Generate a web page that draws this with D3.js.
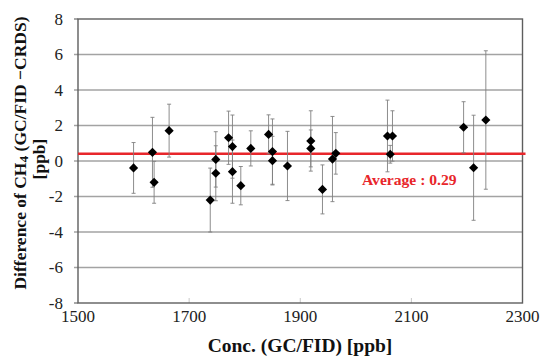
<!DOCTYPE html>
<html>
<head>
<meta charset="utf-8">
<script src="https://cdn.jsdelivr.net/npm/d3@7"></script>
<style>
  html, body { margin: 0; padding: 0; background: #fff; }
  svg { display: block; }
</style>
</head>
<body>
<svg id="chart" width="542" height="359"></svg>
<script>
// ---- data ----
const concentration = [1600,1634,1637,1664,1738,1748,1748,1771,1778,1778,1793,1811,1843,1850,1850,1877,1919,1919,1940,1958,1964,2057,2062,2066,2194,2212,2234];
const difference    = [-0.39,0.49,-1.2,1.71,-2.2,0.09,-0.69,1.31,0.81,-0.6,-1.39,0.71,1.5,0.53,0.02,-0.28,1.13,0.71,-1.6,0.11,0.43,1.41,0.38,1.41,1.9,-0.38,2.31];
const errorBar      = [1.43,1.97,1.18,1.49,1.8,1.56,1.55,1.5,1.78,1.78,1.08,0.99,1.1,1.84,1.37,1.95,1.7,1.04,1.38,2.4,1.17,2.02,0.5,1.42,1.44,2.96,3.9];
const xTicks = [1500,1700,1900,2100,2300];
const yTicks = [-8,-6,-4,-2,0,2,4,6,8];
const averageLine = 0.41;
const averageLabel = "Average : 0.29";

const points = concentration.map((c,i)=>({x:c, y:difference[i], e:errorBar[i]}));

const svg = d3.select("#chart");
const m = {left:78, right:522.5, top:19, bottom:303};
const x = d3.scaleLinear().domain([1500,2300]).range([m.left, m.right]);
const y = d3.scaleLinear().domain([-8,8]).range([m.bottom, m.top]);

const serif = "'Liberation Serif', 'DejaVu Serif', serif";

// gridlines
svg.append("g").selectAll("line").data(yTicks.filter(t=>t>-8 && t<8)).join("line")
  .attr("x1", m.left-4).attr("x2", m.right)
  .attr("y1", d=>y(d)).attr("y2", d=>y(d))
  .attr("stroke", "#a3a3a3").attr("stroke-width", 1.3);
// outer y ticks at ends
svg.append("g").selectAll("line").data([-8,8]).join("line")
  .attr("x1", m.left-4).attr("x2", m.left)
  .attr("y1", d=>y(d)).attr("y2", d=>y(d))
  .attr("stroke", "#777").attr("stroke-width", 1.3);

// x inner ticks
svg.append("g").selectAll("line").data(xTicks.slice(1,-1)).join("line")
  .attr("x1", d=>x(d)).attr("x2", d=>x(d))
  .attr("y1", m.bottom).attr("y2", m.bottom-5)
  .attr("stroke", "#c8c8c8").attr("stroke-width", 1);

// plot border
svg.append("rect")
  .attr("x", m.left).attr("y", m.top)
  .attr("width", m.right-m.left).attr("height", m.bottom-m.top)
  .attr("fill", "none").attr("stroke", "#5e5e5e").attr("stroke-width", 1.4);

// average line
svg.append("line")
  .attr("x1", x(1500)).attr("x2", x(2300)+3)
  .attr("y1", y(averageLine)).attr("y2", y(averageLine))
  .attr("stroke", "#e8262b").attr("stroke-width", 2.4);

// error bars
const eb = svg.append("g").attr("stroke", "#808080").attr("stroke-width", 0.9);
eb.selectAll("line.v").data(points).join("line").attr("class","v")
  .attr("x1", d=>x(d.x)).attr("x2", d=>x(d.x))
  .attr("y1", d=>y(d.y+d.e)).attr("y2", d=>y(d.y-d.e));
eb.selectAll("line.t").data(points).join("line").attr("class","t")
  .attr("x1", d=>x(d.x)-2).attr("x2", d=>x(d.x)+2)
  .attr("y1", d=>y(d.y+d.e)).attr("y2", d=>y(d.y+d.e));
eb.selectAll("line.b").data(points).join("line").attr("class","b")
  .attr("x1", d=>x(d.x)-2).attr("x2", d=>x(d.x)+2)
  .attr("y1", d=>y(d.y-d.e)).attr("y2", d=>y(d.y-d.e));

// diamonds
const diamond = d3.symbol().type(d3.symbolSquare).size(42);
svg.append("g").selectAll("path").data(points).join("path")
  .attr("d", diamond)
  .attr("transform", d=>`translate(${x(d.x)},${y(d.y)}) rotate(45)`)
  .attr("fill", "#000");

// tick labels
svg.append("g").selectAll("text").data(yTicks).join("text")
  .attr("x", 63).attr("y", d=>y(d)+5.5)
  .attr("text-anchor", "end")
  .attr("font-family", serif).attr("font-size", 17)
  .attr("fill", "#222")
  .text(d=>d);
svg.append("g").selectAll("text").data(xTicks).join("text")
  .attr("x", d=>x(d)).attr("y", 322)
  .attr("text-anchor", "middle")
  .attr("font-family", serif).attr("font-size", 17)
  .attr("fill", "#222")
  .text(d=>d);

// x title
svg.append("text")
  .attr("x", 300).attr("y", 352)
  .attr("text-anchor", "middle")
  .attr("font-family", serif).attr("font-size", 19.5).attr("font-weight", "bold")
  .attr("fill", "#111")
  .text("Conc. (GC/FID) [ppb]");

// y title
const yt = svg.append("text")
  .attr("transform", "translate(26,153) rotate(-90)")
  .attr("text-anchor", "middle")
  .attr("font-family", serif).attr("font-size", 17.5).attr("font-weight", "bold")
  .attr("fill", "#111");
yt.append("tspan").text("Difference of CH");
yt.append("tspan").attr("font-size", 13.5).attr("dy", 2).text("4");
yt.append("tspan").attr("dy", -2).text(" (GC/FID \u2212CRDS)");
svg.append("text")
  .attr("transform", "translate(45,159) rotate(-90)")
  .attr("text-anchor", "middle")
  .attr("font-family", serif).attr("font-size", 17.5).attr("font-weight", "bold")
  .attr("fill", "#111")
  .text("[ppb]");

// average label
svg.append("text")
  .attr("x", 362).attr("y", 185)
  .attr("font-family", serif).attr("font-size", 15.6).attr("font-weight", "bold")
  .attr("fill", "#e8262b")
  .text(averageLabel);
</script>
</body>
</html>
